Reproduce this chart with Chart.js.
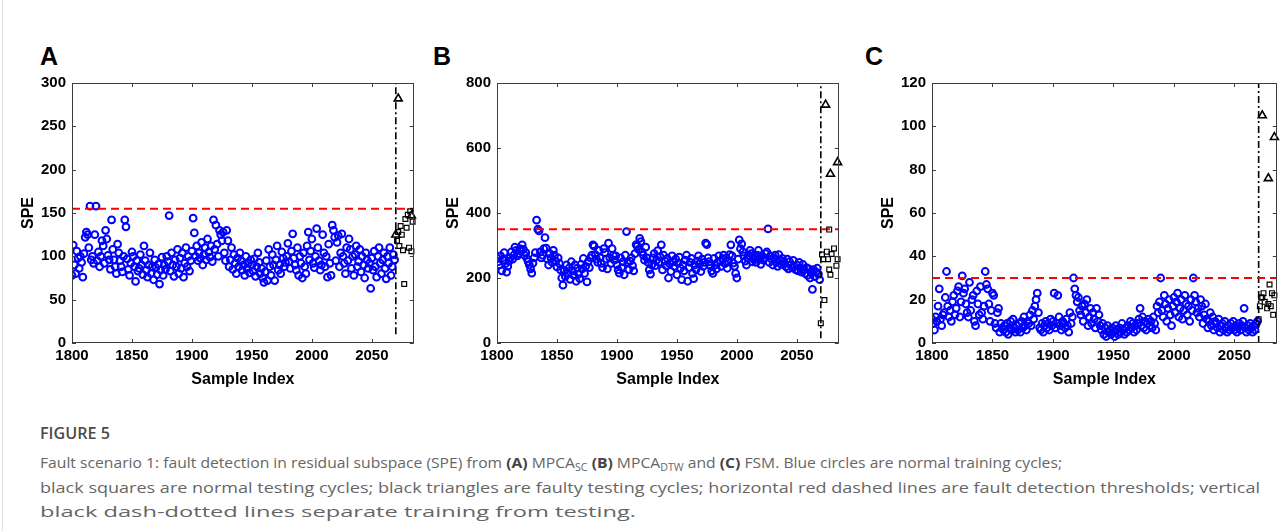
<!DOCTYPE html>
<html>
<head>
<meta charset="utf-8">
<script src="https://cdn.jsdelivr.net/npm/chart.js@4.4.1/dist/chart.umd.min.js"></script>
<style>
  html, body { margin: 0; padding: 0; background: #fff; width: 1281px; height: 531px; overflow: hidden; position: relative; }
  .edge { position: absolute; left: 2px; top: 0; width: 1px; height: 531px; background: #e2e2e2; }
  .panel { position: absolute; top: 68px; height: 325px; }
  .lbl { position: absolute; top: 42px; font: bold 25px 'Liberation Sans', Arial, sans-serif; color: #000; }
  #cap { position: absolute; left: 40px; top: 422px; font-family: 'Open Sans', sans-serif; color: #666; }
  #cap .fig { font-size: 16px; font-weight: 600; color: #4a4a4a; height: 28px; line-height: 22px; white-space: nowrap; }
  #cap .line { font-size: 15px; line-height: 24.5px; height: 24.5px; white-space: nowrap; }
  #cap .line span, #cap .fig span { display: inline-block; white-space: nowrap; transform-origin: left center; }
  #cap b { color: #444; font-weight: 700; }
  #cap sub { font-size: 0.68em; vertical-align: -0.3em; line-height: 0; }
</style>
</head>
<body>
<div class="edge"></div>
<div class="lbl" style="left:40px">A</div>
<div class="lbl" style="left:433px">B</div>
<div class="lbl" style="left:865px">C</div>
<canvas id="chartA" class="panel" style="left:12px" width="408" height="325"></canvas>
<canvas id="chartB" class="panel" style="left:437px" width="408" height="325"></canvas>
<canvas id="chartC" class="panel" style="left:872px" width="411" height="325"></canvas>
<div id="cap">
  <div class="fig"><span data-w="70">FIGURE 5</span></div>
  <div class="line"><span data-w="1022">Fault scenario 1: fault detection in residual subspace (SPE) from <b>(A)</b> MPCA<sub>SC</sub> <b>(B)</b> MPCA<sub>DTW</sub> and <b>(C)</b> FSM. Blue circles are normal training cycles;</span></div>
  <div class="line"><span data-w="1220">black squares are normal testing cycles; black triangles are faulty testing cycles; horizontal red dashed lines are fault detection thresholds; vertical</span></div>
  <div class="line"><span data-w="596">black dash-dotted lines separate training from testing.</span></div>
</div>
<script>
// ---- data ----
const sampleStart = 1800;          // first training cycle
const xMin = 1800, xMax = 2085;
const xTicks = [1800, 1850, 1900, 1950, 2000, 2050];
const splitIndex = 2070;           // training / testing separation

// (A) MPCA_SC
const speA = [
  78, 113, 90, 80, 106, 98, 86, 100, 93, 76,
  103, 122, 128, 125, 110, 158, 96, 100, 92, 125,
  158, 95, 105, 88, 100, 118, 112, 92, 130, 120,
  101, 96, 85, 142, 108, 96, 88, 80, 114, 104,
  95, 88, 82, 100, 142, 134, 97, 85, 78, 92,
  105, 100, 88, 71, 95, 83, 86, 102, 90, 79,
  112, 95, 84, 76, 90, 104, 80, 88, 73, 96,
  87, 79, 91, 68, 84, 99, 78, 90, 85, 100,
  94, 147, 83, 104, 90, 77, 96, 88, 108, 80,
  98, 86, 104, 76, 92, 110, 88, 100, 83, 95,
  106, 144, 127, 100, 112, 95, 104, 98, 116, 90,
  102, 110, 96, 120, 105, 99, 112, 94, 142, 108,
  136, 114, 100, 130, 125, 118, 128, 104, 95, 130,
  118, 88, 96, 110, 85, 102, 92, 80, 98, 88,
  104, 95, 84, 90, 78, 100, 86, 92, 81, 96,
  90, 83, 97, 77, 88, 104, 93, 80, 86, 75,
  70, 82, 95, 72, 108, 88, 78, 102, 90, 72,
  96, 112, 84, 90, 80, 105, 98, 88, 93, 100,
  115, 94, 86, 106, 126, 98, 90, 84, 110, 78,
  100, 92, 75, 104, 88, 80, 112, 128, 96, 106,
  120, 92, 87, 100, 132, 110, 95, 84, 90, 125,
  104, 88, 100, 76, 114, 92, 78, 136, 130, 122,
  95, 116, 124, 88, 104, 126, 100, 92, 80, 110,
  95, 120, 108, 86, 100, 78, 102, 112, 88, 94,
  108, 82, 100, 90, 75, 104, 96, 86, 92, 63,
  98, 84, 106, 88, 76, 100, 110, 92, 80, 96,
  104, 86, 74, 100, 92, 110, 78, 88, 102, 96
];
const testNormalAx = [2071, 2072, 2073, 2074, 2075, 2076, 2077, 2078, 2079, 2080, 2081, 2082, 2083, 2084];
const testNormalAy = [118, 128, 112, 135, 125, 107, 68, 143, 133, 148, 110, 152, 106, 140];
const testFaultAx = [2072, 2083, 2070];
const testFaultAy = [282, 147, 125];
const thresholdA = 155;
const yTicksA = [0, 50, 100, 150, 200, 250, 300];

// (B) MPCA_DTW
const speB = [
  262, 250, 240, 268, 222, 255, 278, 244, 218, 236,
  252, 262, 280, 258, 270, 295, 285, 268, 275, 290,
  282, 302, 288, 270, 278, 260, 250, 240, 228, 215,
  246, 262, 278, 378, 350, 345, 280, 262, 270, 290,
  324, 292, 258, 240, 275, 262, 248, 285, 270, 252,
  234, 262, 245, 225, 200, 178, 222, 205, 240, 215,
  230, 196, 250, 222, 208, 240, 190, 230, 212, 198,
  242, 228, 260, 214, 236, 188, 250, 232, 262, 270,
  302, 298, 272, 258, 248, 285, 262, 245, 232, 290,
  278, 258, 228, 307, 262, 245, 290, 270, 255, 268,
  240, 225, 215, 262, 232, 250, 210, 270, 343, 248,
  226, 252, 262, 238, 222, 275, 303, 298, 288, 322,
  312, 280, 270, 255, 295, 262, 248, 225, 212, 240,
  262, 275, 238, 255, 284, 248, 265, 302, 225, 270,
  252, 238, 260, 200, 244, 220, 268, 250, 236, 258,
  210, 246, 264, 230, 195, 240, 222, 255, 270, 190,
  232, 248, 260, 214, 198, 240, 226, 252, 268, 244,
  220, 258, 236, 248, 307, 303, 262, 250, 238, 222,
  214, 260, 240, 228, 248, 268, 252, 236, 258, 270,
  244, 262, 230, 250, 272, 302, 268, 246, 236, 214,
  200, 258, 317, 290, 305, 280, 268, 252, 240, 262,
  270, 285, 275, 250, 258, 262, 248, 270, 285, 258,
  242, 268, 255, 262, 275, 280, 351, 248, 268, 258,
  240, 262, 270, 248, 236, 272, 255, 242, 260, 250,
  245, 235, 258, 228, 250, 240, 232, 254, 236, 226,
  240, 222, 248, 230, 218, 242, 226, 214, 232, 208,
  228, 200, 215, 165, 226, 204, 218, 230, 212, 195
];
const testNormalBx = [2070, 2071, 2072, 2073, 2075, 2076, 2077, 2077, 2078, 2079, 2081, 2083, 2084];
const testNormalBy = [61, 272, 258, 132, 281, 258, 226, 349, 210, 274, 291, 238, 258];
const testFaultBx = [2074, 2078, 2084];
const testFaultBy = [733, 520, 556];
const thresholdB = 350;
const yTicksB = [0, 200, 400, 600, 800];

// (C) FSM
const speC = [
  11, 9, 6, 12, 10, 17, 25, 11, 8, 13,
  14, 21, 33, 17, 12, 15, 10, 19, 22, 13,
  16, 24, 26, 12, 19, 31, 23, 25, 18, 14,
  12, 28, 15, 20, 22, 10, 8, 24, 18, 13,
  26, 14, 11, 17, 33, 27, 25, 18, 10, 15,
  23, 22, 9, 7, 14, 16, 5, 9, 7, 6,
  8, 5, 9, 4, 7, 10, 6, 11, 7, 5,
  8, 6, 9, 5, 10, 7, 12, 8, 6, 10,
  9, 13, 8, 15, 11, 17, 20, 23, 14, 7,
  6, 9, 5, 8, 10, 7, 9, 6, 11, 8,
  10, 23, 7, 9, 22, 12, 8, 6, 10, 9,
  7, 11, 8, 5, 14, 9, 12, 30, 25, 22,
  19, 21, 15, 13, 17, 10, 18, 14, 20, 8,
  12, 16, 9, 14, 11, 7, 16, 10, 13, 8,
  6, 9, 4, 7, 3, 8, 5, 6, 4, 7,
  5, 3, 8, 6, 4, 7, 5, 9, 6, 4,
  7, 5, 8, 6, 10, 7, 9, 5, 8, 6,
  9, 11, 16, 8, 12, 7, 10, 6, 9, 11,
  8, 10, 7, 12, 9, 6, 17, 14, 19, 30,
  15, 12, 22, 18, 10, 16, 20, 13, 8, 17,
  21, 14, 19, 23, 12, 16, 20, 11, 15, 22,
  18, 13, 17, 10, 20, 15, 30, 22, 19, 14,
  16, 12, 20, 17, 9, 13, 18, 11, 7, 10,
  14, 8, 12, 6, 10, 9, 7, 11, 5, 8,
  9, 6, 10, 7, 5, 8, 6, 9, 7, 10,
  6, 8, 5, 7, 9, 6, 8, 10, 16, 7,
  5, 8, 6, 9, 7, 5, 8, 6, 9, 10
];
const testNormalCx = [2070, 2071, 2072, 2073, 2074, 2075, 2077, 2078, 2079, 2080, 2081, 2082, 2083];
const testNormalCy = [11, 17, 21, 21, 23, 19, 16, 18, 27, 17, 23, 13, 22];
const testFaultCx = [2073, 2078, 2083];
const testFaultCy = [105, 76, 95];
const thresholdC = 30;
const yTicksC = [0, 20, 40, 60, 80, 100, 120];

// ---- drawing ----
const FONT = "'Liberation Sans', Arial, sans-serif";

// MATLAB style box with inward ticks
const boxPlugin = {
  id: 'matlabBox',
  afterDraw(chart) {
    const { ctx, chartArea: a, scales: { x, y } } = chart;
    ctx.save();
    ctx.strokeStyle = '#3c3c3c';
    ctx.lineWidth = 1;
    ctx.strokeRect(Math.round(a.left) + 0.5, Math.round(a.top) + 0.5,
                   Math.round(a.right - a.left) - 1, Math.round(a.bottom - a.top) - 1);
    ctx.beginPath();
    x.ticks.forEach(t => {
      const px = Math.round(x.getPixelForValue(t.value)) + 0.5;
      ctx.moveTo(px, a.bottom); ctx.lineTo(px, a.bottom - 4);
      ctx.moveTo(px, a.top); ctx.lineTo(px, a.top + 4);
    });
    y.ticks.forEach(t => {
      const py = Math.round(y.getPixelForValue(t.value)) + 0.5;
      ctx.moveTo(a.left, py); ctx.lineTo(a.left + 4, py);
      ctx.moveTo(a.right, py); ctx.lineTo(a.right - 4, py);
    });
    ctx.stroke();
    ctx.restore();
  }
};

function trainPoints(values) {
  return values.map((v, i) => ({ x: sampleStart + i, y: v }));
}
function pairPoints(xs, ys) {
  return xs.map((x, i) => ({ x: x, y: ys[i] }));
}

function makePanel(id, train, nx, ny, fx, fy, threshold, yTicks, splitLow) {
  const yMax = yTicks[yTicks.length - 1];
  new Chart(document.getElementById(id), {
    type: 'scatter',
    data: {
      datasets: [
        {
          data: trainPoints(train), order: 3,
          pointStyle: 'circle', pointRadius: 3.4, borderWidth: 2,
          borderColor: '#0000ff', backgroundColor: 'rgba(0,0,0,0)'
        },
        {
          data: [{ x: xMin, y: threshold }, { x: xMax, y: threshold }], order: 2,
          showLine: true, pointRadius: 0, borderColor: '#ff0000', borderWidth: 2,
          borderDash: [8, 5]
        },
        {
          data: [{ x: splitIndex, y: splitLow }, { x: splitIndex, y: yMax }], order: 2,
          showLine: true, pointRadius: 0, borderColor: '#000', borderWidth: 1.6,
          borderDash: [7, 3, 2, 3]
        },
        {
          data: pairPoints(nx, ny), order: 1, clip: false,
          pointStyle: 'rect', pointRadius: 3.4, borderWidth: 1.2,
          borderColor: '#000', backgroundColor: 'rgba(0,0,0,0)'
        },
        {
          data: pairPoints(fx, fy), order: 0, clip: false,
          pointStyle: 'triangle', pointRadius: 4.6, borderWidth: 1.6,
          borderColor: '#000', backgroundColor: 'rgba(0,0,0,0)'
        }
      ]
    },
    options: {
      responsive: false,
      animation: false,
      events: [],
      layout: { padding: { top: 10, right: 3, bottom: 0, left: 0 } },
      plugins: { legend: { display: false }, tooltip: { enabled: false } },
      scales: {
        x: {
          type: 'linear', min: xMin, max: xMax,
          afterBuildTicks: s => { s.ticks = xTicks.map(v => ({ value: v })); },
          afterFit: s => { s.height = 50; },
          grid: { display: false, drawTicks: false },
          border: { display: false },
          ticks: { padding: 4, color: '#000', callback: v => String(v),
                   font: { family: FONT, size: 15, weight: 'bold' } },
          title: { display: true, text: 'Sample Index', color: '#000',
                   font: { family: FONT, size: 16, weight: 'bold' }, padding: { top: 0, bottom: 4 } }
        },
        y: {
          type: 'linear', min: 0, max: yMax,
          afterBuildTicks: s => { s.ticks = yTicks.map(v => ({ value: v })); },
          afterFit: s => { s.width = 60; },
          grid: { display: false, drawTicks: false },
          border: { display: false },
          ticks: { padding: 6, color: '#000', callback: v => String(v),
                   font: { family: FONT, size: 15, weight: 'bold' } },
          title: { display: true, text: 'SPE', color: '#000',
                   font: { family: FONT, size: 16, weight: 'bold' }, padding: { top: 7, bottom: 0 } }
        }
      }
    },
    plugins: [boxPlugin]
  });
}

makePanel('chartA', speA, testNormalAx, testNormalAy, testFaultAx, testFaultAy, thresholdA, yTicksA, 10);
makePanel('chartB', speB, testNormalBx, testNormalBy, testFaultBx, testFaultBy, thresholdB, yTicksB, 15);
makePanel('chartC', speC, testNormalCx, testNormalCy, testFaultCx, testFaultCy, thresholdC, yTicksC, 0);

// fit each caption line to the width it takes in the figure
document.querySelectorAll('#cap span[data-w]').forEach(sp => {
  const w = sp.getBoundingClientRect().width;
  sp.style.transform = 'scaleX(' + (+sp.dataset.w / w) + ')';
});
</script>
</body>
</html>
